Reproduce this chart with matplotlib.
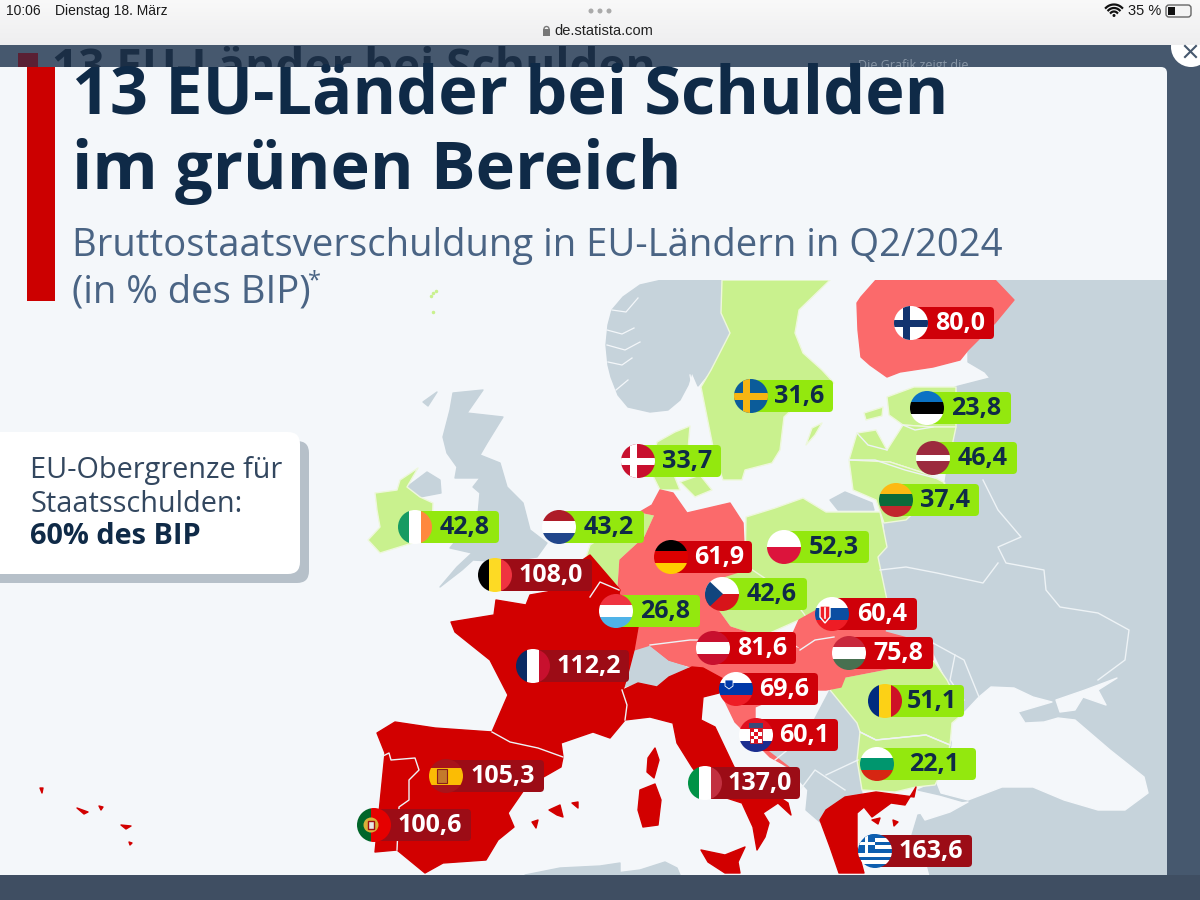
import matplotlib
matplotlib.use("Agg")
import matplotlib.pyplot as plt
from matplotlib.patches import Polygon, Rectangle, Circle, FancyBboxPatch
import numpy as np

# ---------- data ----------
countries = ["Finnland","Schweden","Estland","Lettland","Litauen","Dänemark","Polen","Deutschland",
             "Niederlande","Irland","Belgien","Tschechien","Luxemburg","Slowakei","Österreich","Ungarn",
             "Frankreich","Slowenien","Rumänien","Kroatien","Bulgarien","Italien","Spanien","Portugal","Griechenland"]
debt = [80.0,31.6,23.8,46.4,37.4,33.7,52.3,61.9,43.2,42.8,108.0,42.6,26.8,60.4,81.6,75.8,112.2,69.6,51.1,60.1,22.1,137.0,105.3,100.6,163.6]
flag_x = [911,751,927,933,896,638,784,671,559,415,495,722,616,832,713,849,533,736,885,756,877,705,446,374,875]
flag_y = [323,396,408,458,500,461,547,557,527,527,575,594,611,614,648,653,666,689,701,735,764,783,776,825,851]
box_right = [994,833,1011,1017,979,721,869,752,644,499,592,807,700,917,796,933,629,818,964,838,976,800,544,471,972]

title_lines = ["13 EU-Länder bei Schulden","im grünen Bereich"]
subtitle_lines = ["Bruttostaatsverschuldung in EU-Ländern in Q2/2024","(in % des BIP)"]

# ---------- colours ----------
BACK="#46586e"; BOTTOM="#3f4e62"; SEA="#f4f7fa"; GREY="#c6d3db"
LAND_G="#c9f18e"; LAND_S="#fb6a6b"; LAND_R="#d20000"
LAB_G="#93e80e"; LAB_S="#cf0009"; LAB_R="#9c0c16"; NAVY="#0f2a47"; SUB="#4a6484"

# ---------- map geometry (picture coordinates) ----------
grey_shapes = {
 "east":[(995,280),(1167,280),(1167,875),(930,875),(922,845),(912,835),(918,815),(945,812),(968,803),(940,795),(918,790),(935,783),(964,713),(947,680),(930,645),(880,640),(887,600),(878,557),(887,547),(884,523),(906,520),(945,483),(947,470),(955,430),(955,387),(990,378),(985,372),(968,362),(968,350),(995,323),(1014,300)],
 "norway":[(722,280),(662,280),(640,285),(623,297),(612,310),(608,325),(606,345),(608,365),(611,377),(618,395),(628,407),(650,412),(668,410),(680,400),(688,385),(692,372),(698,386),(711,370),(730,333),(721,313)],
 "uk":[(453,393),(483,390),(467,413),(503,417),(495,430),(487,443),(480,455),(500,463),(507,487),(523,503),(530,530),(547,543),(537,557),(505,562),(473,560),(462,570),(440,587),(457,567),(472,553),(450,548),(458,538),(480,537),(478,515),(480,493),(473,487),(480,478),(455,478),(457,467),(447,453),(443,437),(450,410)],
 "nireland":[(407,487),(427,472),(440,480),(441,493),(420,497)],
 "hebrides":[(423,402),(437,392),(428,406)],
 "balkans":[(755,722),(810,728),(830,690),(860,725),(858,760),(862,795),(826,810),(820,822),(806,810),(808,790),(790,770),(760,745)],
 "swiss":[(623,687),(627,677),(634,650),(650,645),(665,652),(669,660),(688,668),(669,677),(657,687),(638,683)],
 "kaliningrad":[(830,500),(845,492),(872,503),(874,510),(838,510)],
 "africa1":[(525,875),(560,868),(600,866),(620,863),(620,875)],
 "africa2":[(600,875),(640,870),(665,862),(677,868),(680,875)],
}
sea_shapes = {
 "black":[(964,713),(979,697),(991,687),(1014,688),(1033,697),(1052,702),(1018,712),(1025,723),(1044,722),(1058,718),(1075,720),(1110,750),(1144,777),(1148,793),(1125,810),(1098,810),(1064,800),(1033,787),(1002,787),(968,800),(941,793),(937,783),(952,747),(954,723)],
 "azov":[(1056,700),(1085,690),(1117,678),(1098,690),(1106,705),(1083,697),(1075,710),(1060,712)],
 "marmara":[(920,812),(940,806),(968,802),(950,812),(925,820)],
}
green_shapes = {
 "sweden":[(722,280),(830,280),(799,310),(795,333),(803,353),(822,370),(834,383),(800,402),(784,417),(780,450),(772,463),(745,470),(742,480),(723,480),(715,457),(701,387),(711,370),(730,333),(721,313)],
 "gotland":[(806,445),(812,428),(822,423),(815,435)],
 "denmark":[(657,442),(675,432),(690,426),(688,450),(672,470),(680,490),(660,490),(650,470)],
 "dk_isles":[(680,482),(700,475),(712,490),(695,497)],
 "estonia":[(887,397),(914,387),(956,387),(956,427),(933,427),(903,425),(889,415)],
 "est_isle":[(864,413),(883,407),(882,416),(866,420)],
 "latvia":[(849,460),(857,433),(876,430),(887,450),(903,425),(933,427),(956,427),(947,470),(930,475),(890,462)],
 "lithuania":[(849,460),(890,462),(930,475),(945,483),(906,520),(884,523),(876,500),(853,490)],
 "poland":[(746,517),(775,508),(803,498),(826,512),(880,512),(887,547),(878,557),(887,600),(860,600),(835,600),(807,618),(780,600),(745,570)],
 "czech":[(745,565),(790,595),(807,618),(799,620),(761,637),(730,627),(707,595),(713,580)],
 "ireland":[(375,493),(397,490),(400,480),(418,468),(407,487),(420,497),(433,503),(432,537),(380,553),(368,540),(380,527),(377,510)],
 "netherlands":[(590,545),(640,512),(655,515),(645,537),(620,560),(618,590),(600,570),(585,560)],
 "luxembourg":[(608,598),(622,596),(625,620),(610,622)],
 "romania":[(830,690),(845,677),(933,660),(947,680),(964,713),(952,723),(950,745),(926,735),(876,740),(860,732),(857,723)],
 "bulgaria":[(860,732),(876,740),(926,735),(950,745),(945,765),(935,785),(916,787),(895,792),(862,790),(857,760)],
}
salmon_shapes = {
 "finland":[(861,297),(876,280),(995,280),(1014,300),(995,323),(968,350),(960,360),(933,367),(900,372),(887,377),(870,365),(861,357),(858,330),(857,303)],
 "germany":[(660,490),(673,493),(687,513),(730,503),(743,523),(745,570),(713,580),(707,595),(730,627),(726,667),(692,667),(669,660),(650,645),(634,650),(638,627),(625,605),(618,590),(620,560),(645,537),(655,515),(640,512),(652,505)],
 "austria":[(650,645),(700,625),(730,627),(761,637),(803,650),(795,665),(765,667),(726,680),(692,667),(669,660)],
 "slovak_hung":[(799,620),(835,600),(887,600),(885,632),(933,645),(933,660),(845,677),(841,687),(826,690),(795,690),(765,667),(803,650),(790,640)],
 "slo_cro":[(726,680),(765,667),(795,690),(755,707),(755,720),(745,728),(760,745),(790,768),(770,757),(735,722),(722,695)],
}
red_shapes = {
 "france":[(451,622),(494,615),(496,600),(526,605),(530,595),(547,592),(587,593),(617,590),(625,605),(638,627),(634,650),(627,677),(623,690),(619,703),(625,720),(610,738),(593,732),(561,743),(563,757),(538,748),(492,732),(508,695),(490,660),(455,632)],
 "corsica":[(648,758),(655,748),(659,760),(654,778),(647,772)],
 "belgium":[(560,575),(590,555),(620,590),(617,600),(588,595),(548,592)],
 "iberia":[(377,733),(395,722),(435,728),(492,732),(538,748),(563,757),(561,767),(526,787),(508,813),(514,827),(498,840),(486,860),(443,863),(425,873),(397,850),(375,852),(381,793),(385,753)],
 "mallorca":[(549,810),(560,805),(563,817),(557,815)],
 "menorca":[(572,803),(578,802),(578,808)],
 "ibiza":[(532,822),(538,820),(536,828)],
 "azores1":[(40,788),(43,788),(42,793)],
 "azores2":[(77,808),(88,812),(84,814)],
 "azores3":[(99,806),(103,807),(101,810)],
 "azores4":[(121,825),(131,826),(126,829)],
 "azores5":[(129,842),(132,843),(130,845)],
 "italy":[(623,690),(638,683),(657,687),(669,677),(692,667),(703,668),(725,680),(719,693),(703,697),(701,720),(715,727),(734,767),(788,803),(791,815),(778,803),(763,813),(769,823),(765,837),(757,850),(753,827),(742,803),(711,793),(692,767),(677,743),(673,723),(650,717),(625,720),(619,703)],
 "sardinia":[(640,790),(655,784),(661,800),(658,825),(643,827),(638,810)],
 "sicily":[(701,850),(725,855),(745,847),(738,862),(740,873),(725,873),(708,862)],
 "greece":[(916,787),(914,797),(876,792),(845,797),(826,810),(820,820),(830,847),(839,873),(864,873),(857,847),(857,813),(864,807),(872,817),(891,803),(905,805)],
 "isle1":[(872,820),(880,818),(878,824)],
 "isle2":[(893,820),(898,822),(894,826)],
}
light_lines = [
 [(983,480),(998,510),(1021,537),(998,547),(1006,563),(1044,570),(1046,590),(1060,607),(1098,613),(1129,630),(1125,660),(1098,680)],
 [(880,570),(906,567),(937,573),(983,583),(998,563)],
 [(933,643),(964,660),(979,697)],
 [(955,655),(950,680),(964,700)],
 [(381,757),(389,753),(391,760),(415,758),(419,770),(409,780),(409,800),(399,807),(397,850)],
 [(492,732),(510,742),(538,748),(563,757)],
 [(619,590),(600,582),(590,597)],
 [(857,433),(868,445),(887,450)],[(903,425),(915,430),(933,427)],
 [(849,460),(875,460),(905,470),(935,478)],
 [(860,732),(876,740),(926,735),(950,745)],
 [(800,650),(815,640),(834,637)],
 [(775,760),(800,740),(830,745)],[(800,790),(815,770),(845,790)],[(826,775),(858,760)],
 [(622,690),(627,705),(625,720)],
 [(650,645),(690,640),(726,640)],
]
fjords = [[(607,330),(622,334),(634,328)],[(607,345),(625,350),(640,342)],[(608,362),(622,365),(632,358)],[(616,390),(628,380)],[(612,310),(626,312),(638,298)],[(690,375),(693,392)]]

# ---------- figure ----------
fig = plt.figure(figsize=(12,9), dpi=100, facecolor=BACK)
ax = fig.add_axes([0,0,1,1]); ax.set_xlim(0,1200); ax.set_ylim(900,0); ax.axis("off")

grad = np.linspace(0,1,45)[:,None]
top_cols = np.array([[0.975,0.975,0.975]])*(1-grad) + np.array([[0.935,0.935,0.94]])*grad
ax.add_patch(Rectangle((0,875),1200,25,fc=BOTTOM,ec="none",zorder=1))

# ghost page behind card
ax.add_patch(Rectangle((18,53),20,15,fc="#5a2034",ec="none",zorder=2))
ax.text(52,82,title_lines[0],family="Open Sans",weight="bold",fontsize=33,color="#1b2e45",va="baseline",zorder=2)
ax.text(858,69,"Die Grafik zeigt die",family="Open Sans",fontsize=9,color="#8896a6",va="baseline",zorder=2)
ax.imshow(top_cols[:,None,:], extent=(0,1200,45,0), aspect="auto", zorder=3)
ax.set_xlim(0,1200); ax.set_ylim(900,0)

# card
card = FancyBboxPatch((-20,67),1187,808,boxstyle="round,pad=0,rounding_size=6",fc=SEA,ec="none",zorder=4)
ax.add_patch(card)
map_clip = Rectangle((0,280),1167,595,transform=ax.transData)

def shapes(d,fc,ec,z=5):
    for pts in d.values():
        p=Polygon(pts,closed=True,fc=fc,ec=ec,lw=1,joinstyle="round",zorder=z)
        ax.add_patch(p); p.set_clip_path(map_clip)
shapes(grey_shapes,GREY,GREY)
shapes(sea_shapes,SEA,SEA,5.1)
shapes(green_shapes,LAND_G,"#eef7dc",5.2)
shapes(salmon_shapes,LAND_S,LAND_S,5.3)
shapes(red_shapes,LAND_R,LAND_R,5.4)
ax.add_patch(Polygon(green_shapes["luxembourg"],closed=True,fc=LAND_G,ec=LAND_G,zorder=5.5))
for l in light_lines:
    xs,ys=zip(*l); ax.plot(xs,ys,color="#eef3f6",lw=1,zorder=5.6,solid_joinstyle="round")
for l in fjords:
    xs,ys=zip(*l); ax.plot(xs,ys,color=SEA,lw=0.9,zorder=5.6)
for x,y in [(433,293),(431,296),(436,291),(433,312)]:
    ax.plot([x],[y],marker="o",ms=1.5,color=LAND_G,zorder=5.6)

# header
card_clip = Rectangle((0,67),1167,808,transform=ax.transData)
ax.add_patch(Rectangle((27,67),28,234,fc="#cc0000",ec="none",zorder=6))
t=ax.text(72,113,title_lines[0],family="Open Sans",weight="bold",fontsize=48,color=NAVY,va="baseline",zorder=6)
t.set_clip_path(card_clip)
ax.text(72,189,title_lines[1],family="Open Sans",weight="bold",fontsize=48,color=NAVY,va="baseline",zorder=6)
ax.text(72,256,subtitle_lines[0],family="Open Sans",fontsize=27.5,color=SUB,va="baseline",zorder=6)
ax.text(72,302,subtitle_lines[1],family="Open Sans",fontsize=27.5,color=SUB,va="baseline",zorder=6)
ax.text(308,287,"*",family="Open Sans",fontsize=17,color=SUB,va="baseline",zorder=6)

# callout
ax.add_patch(FancyBboxPatch((-20,441),329,142,boxstyle="round,pad=0,rounding_size=12",fc="#b6c0c9",ec="none",zorder=6))
ax.add_patch(FancyBboxPatch((-20,432),320,142,boxstyle="round,pad=0,rounding_size=12",fc="white",ec="none",zorder=6.1))
ax.text(30,478,"EU-Obergrenze für",family="Open Sans",fontsize=20.8,color="#33475f",zorder=6.2)
ax.text(30,512,"Staatsschulden:",family="Open Sans",fontsize=20.8,color="#33475f",zorder=6.2)
ax.text(30,544,"60% des BIP",family="Open Sans",weight="bold",fontsize=20.8,color=NAVY,zorder=6.2)

# flags
def hstripes(c,ratios=None):
    return ("h",c,ratios)
def vstripes(c):
    return ("v",c,None)
flags = {
 "Finnland":("nordic","#ffffff","#12346f"),"Schweden":("nordic","#0b5c9a","#f7b512"),"Dänemark":("nordic","#c8102e","#ffffff"),
 "Estland":hstripes(["#0a72c4","#000000","#ffffff"]),"Lettland":hstripes(["#9c2a3e","#ffffff","#9c2a3e"],[2,1,2]),
 "Litauen":hstripes(["#fdb913","#0b6a3a","#c1272d"]),"Polen":hstripes(["#ffffff","#dc143c"]),
 "Deutschland":hstripes(["#000000","#dd0000","#ffce00"]),"Niederlande":hstripes(["#ae1c28","#ffffff","#21468b"]),
 "Irland":vstripes(["#169b62","#ffffff","#ff883e"]),"Belgien":vstripes(["#000000","#fdda24","#ef3340"]),
 "Luxemburg":hstripes(["#ef3340","#ffffff","#4fb3e8"]),"Slowakei":hstripes(["#ffffff","#0b4ea2","#ee1c25"]),
 "Österreich":hstripes(["#c8102e","#ffffff","#c8102e"]),"Ungarn":hstripes(["#c8283c","#ffffff","#477050"]),
 "Frankreich":vstripes(["#0a2a63","#ffffff","#c8102e"]),"Slowenien":hstripes(["#ffffff","#0038a8","#ee1c25"]),
 "Rumänien":vstripes(["#002b7f","#fcd116","#ce1126"]),"Kroatien":hstripes(["#e01020","#ffffff","#1a2d8f"]),
 "Bulgarien":hstripes(["#ffffff","#00966e","#d62612"]),"Italien":vstripes(["#009246","#ffffff","#c23040"]),
 "Spanien":hstripes(["#a8141a","#fbbc04","#a8141a"],[1,2,1]),
}
R=17
def draw_flag(name,cx,cy,z):
    clip=Circle((cx,cy),R,transform=ax.transData)
    def rect(x,y,w,h,c,zz=0):
        r=Rectangle((x,y),w,h,fc=c,ec="none",zorder=z+zz); ax.add_patch(r); r.set_clip_path(clip)
    def poly(pts,c,zz=0.01):
        r=Polygon(pts,closed=True,fc=c,ec="none",zorder=z+zz); ax.add_patch(r); r.set_clip_path(clip)
    if name=="Tschechien":
        rect(cx-R,cy-R,2*R,R,"#ffffff"); rect(cx-R,cy,2*R,R,"#d7141a")
        poly([(cx-R,cy-R),(cx+1,cy),(cx-R,cy+R)],"#11457e")
    elif name=="Griechenland":
        for i in range(9):
            rect(cx-R,cy-R+i*2*R/9,2*R,2*R/9,"#0d5eaf" if i%2==0 else "#ffffff")
        rect(cx-R,cy-R,R,5*2*R/9,"#0d5eaf")
        rect(cx-R,cy-R+2*2*R/9,R,2*R/9,"#ffffff",0.01); rect(cx-R+R*0.4,cy-R,R*0.2,5*2*R/9,"#ffffff",0.01)
    elif name=="Portugal":
        rect(cx-R,cy-R,14,2*R,"#00662a"); rect(cx-R+14,cy-R,2*R-14,2*R,"#e50000")
        ax.add_patch(Circle((cx-3,cy),7.5,fc="#d9b13a",ec="none",zorder=z+.02))
        ax.add_patch(Rectangle((cx-6,cy-4),6,8,fc="#e8e8e8",ec="#a01010",lw=1,zorder=z+.03))
    elif flags[name][0]=="nordic":
        _,bg,cr=flags[name]
        rect(cx-R,cy-R,2*R,2*R,bg)
        rect(cx-R,cy-3.5,2*R,7,cr,.01); rect(cx-8,cy-R,7,2*R,cr,.01)
    else:
        kind,cols,ratio=flags[name]
        ratio=ratio or [1]*len(cols); tot=sum(ratio); pos=0
        for c,rr in zip(cols,ratio):
            w=2*R*rr/tot
            if kind=="h": rect(cx-R,cy-R+pos,2*R,w,c)
            else: rect(cx-R+pos,cy-R,w,2*R,c)
            pos+=w
        if name=="Spanien":
            ax.add_patch(Rectangle((cx-9,cy-7),10,14,fc="#c47a2c",ec="#8a1c1c",lw=.8,zorder=z+.02))
        if name=="Slowakei":
            ax.add_patch(Polygon([(cx-12,cy-8),(cx-2,cy-8),(cx-2,cy+3),(cx-7,cy+9),(cx-12,cy+3)],closed=True,fc="#ee1c25",ec="white",lw=1,zorder=z+.02))
            ax.plot([cx-7,cx-7],[cy-6,cy+4],color="white",lw=1.2,zorder=z+.03)
        if name=="Kroatien":
            ax.add_patch(Rectangle((cx-6,cy-7),12,15,fc="#ffffff",ec="#c01020",lw=.6,zorder=z+.02))
            for i in range(4):
                for j in range(3):
                    if (i+j)%2==0:
                        ax.add_patch(Rectangle((cx-6+j*4,cy-7+i*3.75),4,3.75,fc="#e01020",ec="none",zorder=z+.03))
            ax.add_patch(Rectangle((cx-7,cy-12),14,5,fc="#3a4a78",ec="none",zorder=z+.03))
        if name=="Slowenien":
            ax.add_patch(Polygon([(cx-11,cy-9),(cx-3,cy-9),(cx-3,cy-3),(cx-7,cy),(cx-11,cy-3)],closed=True,fc="#0038a8",ec="white",lw=.6,zorder=z+.02))

for i,(name,v,fx,fy,br) in enumerate(zip(countries,debt,flag_x,flag_y,box_right)):
    lab = LAB_G if v<60 else (LAB_S if v<100 else LAB_R)
    txt = "white" if v>=60 else NAVY
    z=7+i*0.1
    ax.add_patch(FancyBboxPatch((fx,fy-16),br-fx,32,boxstyle="round,pad=0,rounding_size=4",fc=lab,ec="none",zorder=z))
    draw_flag(name,fx,fy,z+.01)
    ax.text((fx+R+br)/2-1,fy+0.5,f"{v:.1f}".replace(".",","),family="Open Sans",weight="bold",fontsize=18,color=txt,ha="center",va="center",zorder=z+.05)

# iOS bar
IOS="Liberation Sans"
ax.text(6,15,"10:06",family=IOS,fontsize=10,color="#1a1a1a",zorder=9)
ax.text(55,15,"Dienstag 18. März",family=IOS,fontsize=10,color="#1a1a1a",zorder=9)
for x in (591,600,609):
    ax.add_patch(Circle((x,11),2.5,fc="#aaaaaa",ec="none",zorder=9))
ax.text(604,31,"de.statista.com",family=IOS,fontsize=10.5,color="#222222",ha="center",va="center",zorder=9)
ax.add_patch(Rectangle((543,29),7,7,fc="#777777",ec="none",zorder=9))
ax.add_patch(Circle((546.5,29),2.5,fc="none",ec="#777777",lw=1,zorder=9))
ax.text(1128,15,"35 %",family=IOS,fontsize=10.5,color="#1a1a1a",zorder=9)
th=np.radians(np.linspace(-135,-45,20))
for r in (4.5,8,11.5):
    ax.plot(1114+r*np.cos(th),16+r*np.sin(th),color="#111111",lw=1.6,zorder=9)
ax.add_patch(Circle((1114,15.5),1.5,fc="#111111",ec="none",zorder=9))
ax.add_patch(FancyBboxPatch((1166,5),25,12,boxstyle="round,pad=0,rounding_size=3",fc="#f4f4f4",ec="#666666",lw=1,zorder=9))
ax.add_patch(Rectangle((1168,7),7,8,fc="#111111",ec="none",zorder=9.1))

# close button
ax.add_patch(Circle((1191,47),20,fc="white",ec="none",zorder=3.5))
ax.imshow(top_cols[:,None,:], extent=(1150,1200,45,0), aspect="auto", zorder=3.6)
ax.set_xlim(0,1200); ax.set_ylim(900,0)
ax.plot([1185,1196],[46,57],color="#46586e",lw=1.5,zorder=3.7)
ax.plot([1185,1196],[57,46],color="#46586e",lw=1.5,zorder=3.7)

fig.savefig("out.png",dpi=100,facecolor=BACK)
